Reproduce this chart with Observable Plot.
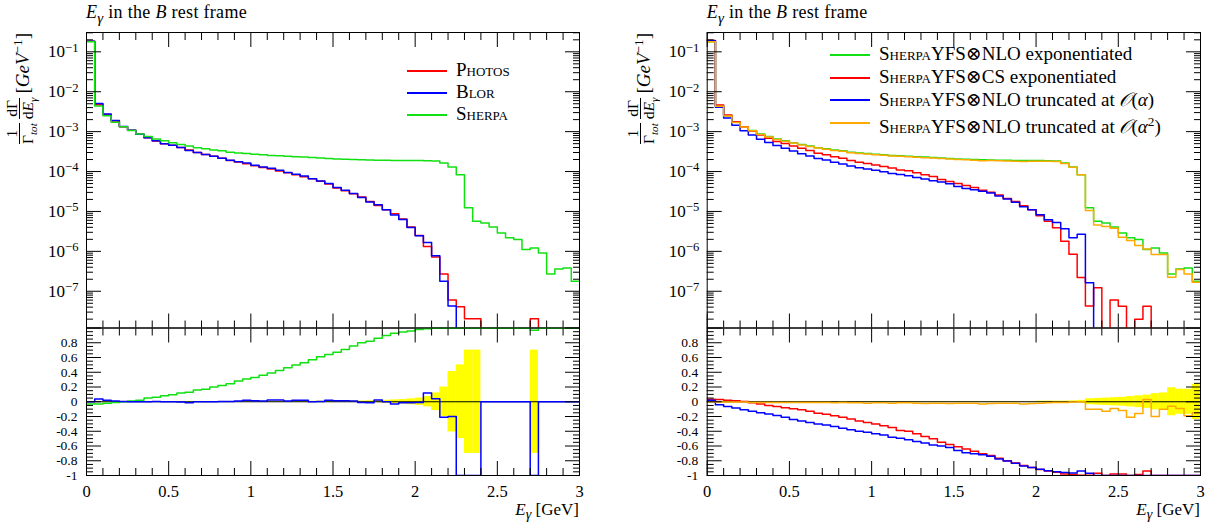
<!DOCTYPE html>
<html>
<head>
<meta charset="utf-8">
<script src="https://cdn.jsdelivr.net/npm/d3@7"></script>
<script src="https://cdn.jsdelivr.net/npm/@observablehq/plot@0.6"></script>
<style>
  body { margin: 0; background: #fff; }
  #chart { position: relative; width: 1215px; height: 525px; overflow: hidden;
           font-family: "Liberation Serif", "DejaVu Serif", serif; color: #000; background: #fff; }
  #chart svg { position: absolute; left: 0; top: 0; }
  .abs { position: absolute; white-space: nowrap; }
  .title { font-size: 18px; line-height: 22px; letter-spacing: 0.3px; }
  .xlabel { font-size: 17px; line-height: 20px; text-align: right; }
  .sc { font-variant: small-caps; }
  .legtext { position: absolute; white-space: nowrap; font-size: 19px; line-height: 22px; height: 22px; }
  .sw { position: absolute; width: 40px; height: 2px; }
  .calO { font-family: "DejaVu Sans", "Noto Sans", sans-serif; font-style: italic; }
  .ytitle { position: absolute; transform-origin: 0 0; transform: rotate(-90deg) translateX(-100%);
            white-space: nowrap; display: flex; align-items: center; font-size: 19px; }
  .frac { display: inline-flex; flex-direction: column; align-items: center; font-size: 15.5px; line-height: 14px; margin-right: 4px; }
  .frac .den { border-top: 0.9px solid #000; padding-top: 1px; }
  .frac sub { font-size: 0.72em; }
  sup { font-size: 0.7em; }
</style>
</head>
<body>
<div id="chart"></div>
<script>
// ---------------- data ----------------
const binWidth = 0.05;            // 60 bins on [0, 3] GeV
const nBins = 60;

// Left panel, main plot (1/Γ dΓ/dEγ)
const photos = [0.185,4.75e-3,2.67e-3,1.85e-3,1.33e-3,1.08e-3,8.55e-4,7.05e-4,5.82e-4,4.99e-4,
  4.53e-4,4.03e-4,3.46e-4,3.02e-4,2.69e-4,2.4e-4,2.14e-4,1.9e-4,1.73e-4,1.57e-4,
  1.4e-4,1.27e-4,1.15e-4,1.03e-4,9.3e-5,8.3e-5,7.4e-5,6.6e-5,5.75e-5,4.85e-5,
  3.85e-5,3.3e-5,2.77e-5,2.29e-5,1.78e-5,1.41e-5,1.1e-5,8.7e-6,6.5e-6,4.1e-6,
  2.5e-6,1.32e-6,7.2e-7,2.7e-7,6.0e-8,4.1e-8,2.05e-8,2.05e-8,0,0,
  0,0,0,0,2.05e-8,0,0,0,0,0];
const blor = [0.185,5.1e-3,2.78e-3,1.89e-3,1.34e-3,1.08e-3,8.55e-4,7.05e-4,5.88e-4,4.99e-4,
  4.53e-4,3.99e-4,3.36e-4,3.02e-4,2.69e-4,2.4e-4,2.16e-4,1.92e-4,1.76e-4,1.63e-4,
  1.44e-4,1.3e-4,1.21e-4,1.08e-4,9.5e-5,8.6e-5,7.7e-5,6.6e-5,5.8e-5,5.05e-5,
  3.97e-5,3.4e-5,2.83e-5,2.25e-5,1.73e-5,1.48e-5,1.1e-5,8.2e-6,6.3e-6,3.98e-6,
  2.45e-6,1.66e-6,7.8e-7,1.78e-7,4.3e-8,0,0,0,0,0,
  0,0,0,0,0,0,0,0,0,0];
// Sherpa = Sherpa YFS⊗NLO exponentiated (same curve in both panels)
const sherpa = [0.18,4.4e-3,2.5e-3,1.72e-3,1.32e-3,1.07e-3,8.7e-4,7.5e-4,6.5e-4,5.9e-4,
  5.3e-4,4.75e-4,4.35e-4,3.95e-4,3.72e-4,3.45e-4,3.3e-4,3.05e-4,2.92e-4,2.82e-4,
  2.72e-4,2.62e-4,2.53e-4,2.48e-4,2.43e-4,2.36e-4,2.31e-4,2.26e-4,2.19e-4,2.12e-4,
  2.07e-4,2.04e-4,2.01e-4,1.98e-4,1.95e-4,1.93e-4,1.91e-4,1.9e-4,1.9e-4,1.89e-4,
  1.88e-4,1.86e-4,1.83e-4,1.63e-4,1.3e-4,8.3e-5,1.23e-5,5.7e-6,5.1e-6,4.1e-6,
  2.9e-6,2.18e-6,1.98e-6,1.11e-6,1.22e-6,9.1e-7,2.7e-7,3.6e-7,3.85e-7,1.78e-7];

// Left panel, ratio plot (vs Photos)
const sherpaRatioL = [-0.03,-0.03,-0.02,-0.01,0.0,0.01,0.02,0.05,0.06,0.08,
  0.095,0.12,0.13,0.16,0.17,0.2,0.22,0.245,0.28,0.31,
  0.33,0.36,0.39,0.425,0.46,0.5,0.53,0.57,0.61,0.64,
  0.67,0.71,0.755,0.8,0.82,0.86,0.9,0.93,0.945,0.96,
  0.98,0.99,0.995,0.995,0.995,0.995,0.995,0.995,0.995,0.995,
  0.995,0.995,0.995,0.995,0.97,0.995,0.995,0.995,0.995,0.995];
const blorRatioL = [0.0,0.036,0.02,0.01,0.005,0.0,0.0,0.0,0.005,0.0,
  0.0,-0.005,-0.015,0.0,0.0,0.0,0.005,0.005,0.01,0.02,
  0.015,0.01,0.025,0.025,0.01,0.02,0.02,0.0,0.005,0.02,
  0.015,0.015,0.01,-0.01,-0.015,0.025,0.0,-0.03,-0.015,-0.015,
  -0.01,0.12,0.04,-0.21,-0.2,-1,-1,-1,0,0,
  0,0,0,0,-1,0,0,0,0,0];
const bandL = [0.004,0.004,0.004,0.004,0.004,0.004,0.004,0.004,0.004,0.004,
  0.004,0.004,0.004,0.004,0.004,0.004,0.004,0.004,0.004,0.004,
  0.006,0.006,0.006,0.006,0.006,0.006,0.006,0.006,0.008,0.008,
  0.008,0.008,0.01,0.01,0.012,0.015,0.02,0.025,0.03,0.04,
  0.05,0.07,0.12,0.2,0.41,0.5,0.7,0.7,0,0,
  0,0,0,0,0.7,0,0,0,0,0];

// Right panel, main plot
const csExp = [0.193,4.67e-3,2.6e-3,1.77e-3,1.33e-3,1.04e-3,8.2e-4,6.8e-4,5.7e-4,5.03e-4,
  4.38e-4,3.81e-4,3.35e-4,2.89e-4,2.64e-4,2.35e-4,2.15e-4,1.89e-4,1.71e-4,1.59e-4,
  1.46e-4,1.33e-4,1.22e-4,1.09e-4,1.04e-4,9.3e-5,8.3e-5,7.5e-5,6.35e-5,5.6e-5,
  5.0e-5,4.5e-5,3.97e-5,3.42e-5,3.04e-5,2.57e-5,2.12e-5,1.77e-5,1.38e-5,1.1e-5,
  7.8e-6,5.7e-6,3.9e-6,1.8e-6,8.5e-7,2.2e-7,4.3e-8,1.23e-7,0,6.0e-8,
  4.2e-8,0,2.0e-8,4.2e-8,0,0,0,0,0,0];
const truncA = [0.19,4.06e-3,2.2e-3,1.45e-3,1.06e-3,8.24e-4,6.43e-4,5.38e-4,4.47e-4,3.85e-4,
  3.25e-4,2.79e-4,2.45e-4,2.13e-4,1.94e-4,1.72e-4,1.55e-4,1.37e-4,1.25e-4,1.165e-4,
  1.07e-4,9.9e-5,8.9e-5,8.4e-5,7.8e-5,7.05e-5,6.5e-5,5.9e-5,5.5e-5,4.97e-5,
  4.24e-5,3.74e-5,3.48e-5,3.22e-5,2.91e-5,2.45e-5,2.06e-5,1.71e-5,1.32e-5,1.1e-5,
  8.3e-6,6.2e-6,5.3e-6,3.7e-6,2.2e-6,2.7e-6,1.64e-7,0,0,0,
  0,0,0,0,0,0,0,0,0,0];
const truncA2 = [0.18,4.35e-3,2.47e-3,1.7e-3,1.3e-3,1.05e-3,8.5e-4,7.35e-4,6.35e-4,5.78e-4,
  5.2e-4,4.65e-4,4.26e-4,3.87e-4,3.64e-4,3.38e-4,3.23e-4,2.96e-4,2.85e-4,2.75e-4,
  2.64e-4,2.55e-4,2.46e-4,2.4e-4,2.35e-4,2.27e-4,2.23e-4,2.18e-4,2.11e-4,2.05e-4,
  2.0e-4,1.97e-4,1.93e-4,1.87e-4,1.88e-4,1.86e-4,1.84e-4,1.82e-4,1.79e-4,1.82e-4,
  1.81e-4,1.82e-4,1.79e-4,1.6e-4,1.28e-4,8.3e-5,1.05e-5,4.6e-6,4.2e-6,3.8e-6,
  2.26e-6,1.86e-6,1.4e-6,1.15e-6,8.3e-7,8.3e-7,2.24e-7,3.5e-7,2.7e-7,1.68e-7];

// Right panel, ratio plot (vs Sherpa YFS⊗NLO exponentiated)
const csRatioR = [0.035,0.03,0.02,0.015,0.005,-0.015,-0.03,-0.05,-0.065,-0.08,
  -0.095,-0.11,-0.13,-0.155,-0.17,-0.19,-0.21,-0.235,-0.26,-0.28,
  -0.3,-0.325,-0.35,-0.39,-0.4,-0.435,-0.47,-0.5,-0.55,-0.58,
  -0.61,-0.64,-0.67,-0.705,-0.73,-0.765,-0.8,-0.83,-0.865,-0.89,
  -0.92,-0.94,-0.955,-0.98,-0.985,-0.995,-0.995,-0.97,-1,-0.98,
  -0.98,-1,-0.985,-0.94,-1,-1,-1,-1,-1,-1];
const truncARatioR = [0.02,-0.04,-0.065,-0.085,-0.11,-0.13,-0.15,-0.165,-0.185,-0.21,
  -0.24,-0.26,-0.28,-0.3,-0.315,-0.335,-0.36,-0.38,-0.4,-0.415,
  -0.435,-0.45,-0.48,-0.495,-0.515,-0.54,-0.56,-0.585,-0.6,-0.62,
  -0.66,-0.69,-0.705,-0.72,-0.74,-0.775,-0.805,-0.835,-0.87,-0.89,
  -0.915,-0.935,-0.95,-0.96,-0.965,-0.94,-0.97,-1,-1,-1,
  -1,-1,-1,-1,-1,-1,-1,-1,-1,-1];
const truncA2RatioR = [0.0,-0.005,-0.005,-0.005,-0.005,-0.01,-0.01,-0.01,-0.01,-0.01,
  -0.01,-0.01,-0.01,-0.01,-0.01,-0.015,-0.01,-0.015,-0.015,-0.02,
  -0.015,-0.015,-0.02,-0.015,-0.015,-0.02,-0.025,-0.02,-0.02,-0.025,
  -0.02,-0.02,-0.02,-0.03,-0.025,-0.02,-0.02,-0.02,-0.03,-0.025,
  -0.02,-0.015,-0.01,-0.01,-0.005,0.0,-0.1,-0.1,-0.13,-0.09,
  -0.12,-0.21,-0.16,0.03,-0.2,-0.1,-0.06,-0.09,-0.19,-0.15];
const bandR = [0.004,0.004,0.004,0.004,0.004,0.004,0.004,0.004,0.004,0.004,
  0.004,0.004,0.004,0.004,0.004,0.004,0.004,0.004,0.004,0.004,
  0.004,0.004,0.004,0.004,0.004,0.004,0.004,0.004,0.004,0.004,
  0.004,0.004,0.004,0.004,0.004,0.004,0.004,0.004,0.004,0.004,
  0.008,0.008,0.008,0.008,0.012,0.018,0.04,0.045,0.05,0.055,
  0.06,0.07,0.08,0.09,0.11,0.12,0.19,0.17,0.17,0.24];

// Ticks and labels
const xTickValues = [0, 0.5, 1, 1.5, 2, 2.5, 3];
const xTickLabels = ["0", "0.5", "1", "1.5", "2", "2.5", "3"];
const decadeValues = [1e-1, 1e-2, 1e-3, 1e-4, 1e-5, 1e-6, 1e-7];
const decadeLabels = ["10^-1", "10^-2", "10^-3", "10^-4", "10^-5", "10^-6", "10^-7"];
const ratioTickValues = [0.8, 0.6, 0.4, 0.2, 0, -0.2, -0.4, -0.6, -0.8, -1];
const ratioTickLabels = ["0.8", "0.6", "0.4", "0.2", "0", "-0.2", "-0.4", "-0.6", "-0.8", "-1"];

const titleText = "in the";
const legendLeft = [
  {html: '<span class="sc">Photos</span>', color: "#ff0000"},
  {html: '<span class="sc">Blor</span>', color: "#0000ff"},
  {html: '<span class="sc">Sherpa</span>', color: "#11e011"}
];
const legendRight = [
  {html: '<span class="sc">Sherpa</span>YFS⊗NLO exponentiated', color: "#11e011"},
  {html: '<span class="sc">Sherpa</span>YFS⊗CS exponentiated', color: "#ff0000"},
  {html: '<span class="sc">Sherpa</span>YFS⊗NLO truncated at <span class="calO">𝒪</span>(<i>α</i>)', color: "#0000ff"},
  {html: '<span class="sc">Sherpa</span>YFS⊗NLO truncated at <span class="calO">𝒪</span>(<i>α</i><sup>2</sup>)', color: "#ffaa00"}
];

// ---------------- layout ----------------
const W = 1215, H = 525;
const MAIN_TOP = 32, SPLIT = 327.5, RATIO_BOTTOM = 475;
const Y_MIN = 1.2e-8, Y_MAX = 0.305;
const binEdges = d3.range(nBins + 1).map(i => +(i * binWidth).toFixed(4));
const xMinor = d3.range(31).map(i => +(i * 0.1).toFixed(2)).filter(v => !xTickValues.includes(v));
const logMinor = [];
for (let k = -8; k <= -1; k++) for (let m = 2; m <= 9; m++) {
  const v = m * Math.pow(10, k);
  if (v > Y_MIN && v < Y_MAX) logMinor.push(v);
}
const ratioMinor = d3.range(-20, 21).map(i => +(i * 0.05).toFixed(2)).filter(v => Math.abs(v * 5 - Math.round(v * 5)) > 1e-6);
const ratioMajor = d3.range(-5, 6).map(i => +(i * 0.2).toFixed(2));

const style = {background: "transparent", fontFamily: "'Liberation Serif', 'DejaVu Serif', serif", fontSize: "16.5px", color: "black", overflow: "visible"};
const blank = () => "";
const LW = 1.5;

function steps(values, floor) {
  const pts = [];
  values.forEach((v, i) => {
    const y = (v === 0 && floor !== undefined) ? floor : v;
    pts.push({x: binEdges[i], y}, {x: binEdges[i + 1], y});
  });
  return pts;
}

function tickMarks(yMajor, yMinor) {
  const o = {tickFormat: blank, label: null};
  return [
    Plot.axisX({...o, ticks: xTickValues, anchor: "top", tickSize: -14}),
    Plot.axisX({...o, ticks: xMinor, anchor: "top", tickSize: -7}),
    Plot.axisX({...o, ticks: xTickValues, anchor: "bottom", tickSize: -14}),
    Plot.axisX({...o, ticks: xMinor, anchor: "bottom", tickSize: -7}),
    Plot.axisY({...o, ticks: yMajor, anchor: "left", tickSize: -15}),
    Plot.axisY({...o, ticks: yMinor, anchor: "left", tickSize: -7}),
    Plot.axisY({...o, ticks: yMajor, anchor: "right", tickSize: -15}),
    Plot.axisY({...o, ticks: yMinor, anchor: "right", tickSize: -7})
  ];
}

function mainPanel(x0, x1, series) {
  const floor = Y_MIN / 100;
  return Plot.plot({
    width: W, height: H,
    marginLeft: x0, marginRight: W - x1, marginTop: MAIN_TOP, marginBottom: H - SPLIT,
    style,
    x: {domain: [0, 3], label: null},
    y: {type: "log", domain: [Y_MIN, Y_MAX], label: null},
    marks: [
      ...series.map(s => Plot.line(steps(s.values, floor), {x: "x", y: "y", stroke: s.color, strokeWidth: LW, clip: true})),
      Plot.frame({stroke: "black", strokeWidth: 1}),
      ...tickMarks(decadeValues, logMinor),
      Plot.axisY({ticks: decadeValues, anchor: "left", tickSize: 0, tickPadding: 8, label: null, fontSize: 17,
        tickFormat: d => decadeLabels[decadeValues.indexOf(d)]})
    ]
  });
}

function ratioPanel(x0, x1, band, series) {
  const bandData = band.map((e, i) => ({x1: binEdges[i], x2: binEdges[i + 1], lo: -e, hi: e})).filter(d => d.hi > 0);
  return Plot.plot({
    width: W, height: H,
    marginLeft: x0, marginRight: W - x1, marginTop: SPLIT, marginBottom: H - RATIO_BOTTOM,
    style,
    x: {domain: [0, 3], label: null},
    y: {domain: [-1, 1], label: null},
    marks: [
      Plot.rectY(bandData, {x1: "x1", x2: "x2", y1: "lo", y2: "hi", fill: "#ffff00", clip: true}),
      Plot.ruleY([0], {stroke: "black", strokeWidth: 1}),
      ...series.map(s => Plot.line(steps(s.values), {x: "x", y: "y", stroke: s.color, strokeWidth: LW, clip: true})),
      Plot.frame({stroke: "black", strokeWidth: 1}),
      ...tickMarks(ratioMajor, ratioMinor),
      Plot.axisY({ticks: ratioTickValues, anchor: "left", tickSize: 0, tickPadding: 9, label: null, fontSize: 13.5,
        tickFormat: d => ratioTickLabels[ratioTickValues.indexOf(d)]}),
      Plot.axisX({ticks: xTickValues, anchor: "bottom", tickSize: 0, tickPadding: 10, label: null,
        tickFormat: d => xTickLabels[xTickValues.indexOf(d)]})
    ]
  });
}

function superscriptLabels(svg) {
  d3.select(svg).selectAll("text").each(function () {
    const t = this.textContent;
    if (!t || !t.includes("^")) return;
    const [b, e] = t.split("^");
    const sel = d3.select(this);
    sel.text(null);
    sel.append("tspan").text(b);
    sel.append("tspan").attr("dy", "-0.45em").attr("font-size", "0.74em").text(e.replace("-", "−"));
  });
}

const chart = document.getElementById("chart");
const panels = [
  {x0: 86, x1: 579,
   main: [{values: photos, color: "#ff0000"}, {values: blor, color: "#0000ff"}, {values: sherpa, color: "#11e011"}],
   band: bandL,
   ratio: [{values: sherpaRatioL, color: "#11e011"}, {values: blorRatioL, color: "#0000ff"}],
   legend: legendLeft, legX: 407, legY: [71, 93, 115]},
  {x0: 706.7, x1: 1200,
   main: [{values: sherpa, color: "#11e011"}, {values: csExp, color: "#ff0000"}, {values: truncA, color: "#0000ff"}, {values: truncA2, color: "#ffaa00"}],
   band: bandR,
   ratio: [{values: csRatioR, color: "#ff0000"}, {values: truncARatioR, color: "#0000ff"}, {values: truncA2RatioR, color: "#ffaa00"}],
   legend: legendRight, legX: 830, legY: [55, 78, 100, 123]}
];

for (const p of panels) {
  const m = mainPanel(p.x0, p.x1, p.main);
  superscriptLabels(m);
  chart.appendChild(m);
  chart.appendChild(ratioPanel(p.x0, p.x1, p.band, p.ratio));

  const title = document.createElement("div");
  title.className = "abs title";
  title.style.left = p.x0 + "px"; title.style.top = "1px";
  title.innerHTML = `<i>E</i><sub><i>γ</i></sub> ${titleText} <i>B</i> rest frame`;
  chart.appendChild(title);

  const xl = document.createElement("div");
  xl.className = "abs xlabel";
  xl.style.right = (W - p.x1) + "px"; xl.style.top = "500px";
  xl.innerHTML = `<i>E</i><sub><i>γ</i></sub> [GeV]`;
  chart.appendChild(xl);

  const yt = document.createElement("div");
  yt.className = "ytitle";
  yt.style.left = (p.x0 - 81) + "px"; yt.style.top = "33px";
  yt.innerHTML = `<span class="frac"><span>1</span><span class="den">Γ<sub><i>tot</i></sub></span></span>` +
    `<span class="frac"><span>dΓ</span><span class="den">d<i>E</i><sub><i>γ</i></sub></span></span>` +
    `<span>[<i>GeV</i><sup>−1</sup>]</span>`;
  chart.appendChild(yt);

  p.legend.forEach((l, i) => {
    const sw = document.createElement("div");
    sw.className = "sw";
    sw.style.left = p.legX + "px"; sw.style.top = (p.legY[i] - 1) + "px";
    sw.style.background = l.color;
    chart.appendChild(sw);
    const tx = document.createElement("div");
    tx.className = "legtext";
    tx.style.left = (p.legX + 49) + "px"; tx.style.top = (p.legY[i] - 12) + "px";
    tx.innerHTML = l.html;
    chart.appendChild(tx);
  });
}
</script>
</body>
</html>
